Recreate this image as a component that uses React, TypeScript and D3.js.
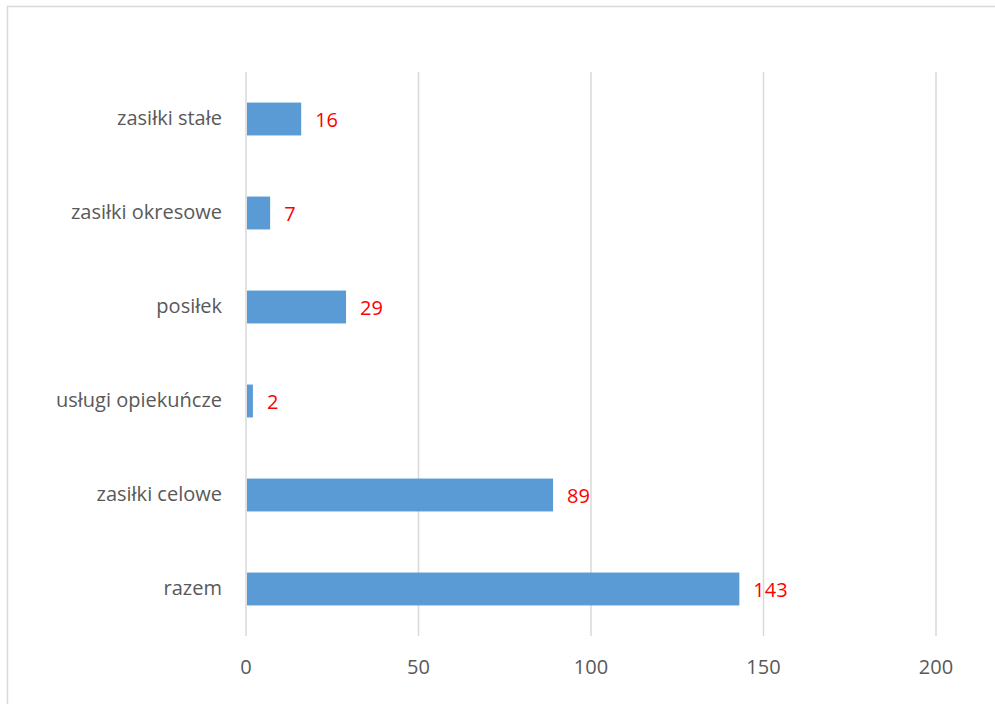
import React from "react";
import * as d3 from "d3";

const categories = ["zasiłki stałe", "zasiłki okresowe", "posiłek", "usługi opiekuńcze", "zasiłki celowe", "razem"];
const values = [16, 7, 29, 2, 89, 143];
const xTicks = [0, 50, 100, 150, 200];

const W = 995;
const H = 704;
const plot = { left: 246, right: 936, top: 72, bottom: 636 };
const FONT = "'Open Sans', 'Noto Sans', sans-serif";

export default function App() {
  const x = d3.scaleLinear().domain([0, 200]).range([plot.left, plot.right]);
  const y = d3.scaleBand<string>().domain(categories).range([plot.top, plot.bottom]).paddingInner(0.65).paddingOuter(0.325);
  return (
    <svg width={W} height={H} style={{ position: "absolute", left: 0, top: 0, background: "#fff" }}>
      <rect x={7.5} y={6.5} width={W + 10} height={H + 10} fill="#fff" stroke="#d9d9d9" strokeWidth={1.5} />
      {xTicks.map((t) => (
        <g key={t}>
          <line x1={x(t)} x2={x(t)} y1={plot.top} y2={plot.bottom} stroke="#d9d9d9" strokeWidth={1.5} />
          <text x={x(t)} y={674} textAnchor="middle" fontFamily={FONT} fontSize={20} fill="#595959">{t}</text>
        </g>
      ))}
      {categories.map((c, i) => {
        const yy = y(c)!;
        const bh = y.bandwidth();
        return (
          <g key={c}>
            <rect x={x(0) + 1} y={yy} width={x(values[i]) - x(0) - 1} height={bh} fill="#5b9bd5" />
            <text x={222} y={yy + bh / 2} dy="0.3em" textAnchor="end" fontFamily={FONT} fontSize={20} fill="#595959">{c}</text>
            <text x={x(values[i]) + 14} y={yy + bh / 2} dy="0.42em" textAnchor="start" fontFamily={FONT} fontSize={20} fill="#ff0000">{values[i]}</text>
          </g>
        );
      })}
    </svg>
  );
}
